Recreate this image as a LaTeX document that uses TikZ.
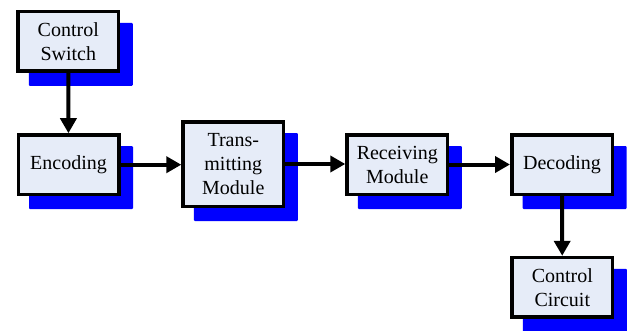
\documentclass[tikz,border=0pt]{standalone}
\usepackage{fontspec}
\setmainfont{LiberationSerif}[Extension=.ttf,UprightFont=*-Regular,BoldFont=*-Bold]
\usetikzlibrary{arrows.meta,calc,backgrounds}
\definecolor{boxfill}{RGB}{230,236,248}
\begin{document}
\begin{tikzpicture}[x=1pt,y=-1pt,
  blk/.style={draw=black,line width=3.5pt,fill=boxfill,minimum width=100.5pt,minimum height=59.5pt,inner sep=0pt,align=center,font=\rmfamily\fontsize{20}{24}\selectfont},
  conn/.style={line width=4pt,-{Triangle[length=15pt,width=16pt]}},
  shade/.style={fill=blue,rounded corners=1pt}]
\useasboundingbox (0,0) rectangle (629,330);
\node[blk] (cs) at (68.3,41.3) {Control\\Switch};
\node[blk] (enc) at (68.5,164.7) {Encoding};
\node[blk,minimum height=84.5pt] (tm) at (233.3,164) {Trans-\\mitting\\Module};
\node[blk] (rm) at (397.3,164.5) {Receiving\\Module};
\node[blk] (dec) at (562,164.5) {Decoding};
\node[blk] (cc) at (562.3,287.3) {Control\\Circuit};
\begin{scope}[on background layer]
\foreach \n in {cs,enc,tm,rm,dec,cc}
  \fill[shade] ($(\n.north west)+(12.5,13)$) rectangle ($(\n.south east)+(12.5,13)$);
\end{scope}
\draw[conn] (cs) -- (enc);
\draw[conn] (enc.east) -- (enc.east -| tm.west);
\draw[conn] (tm.east) -- (tm.east -| rm.west);
\draw[conn] (rm.east) -- (rm.east -| dec.west);
\draw[conn] (dec) -- (cc);
\end{tikzpicture}
\end{document}
